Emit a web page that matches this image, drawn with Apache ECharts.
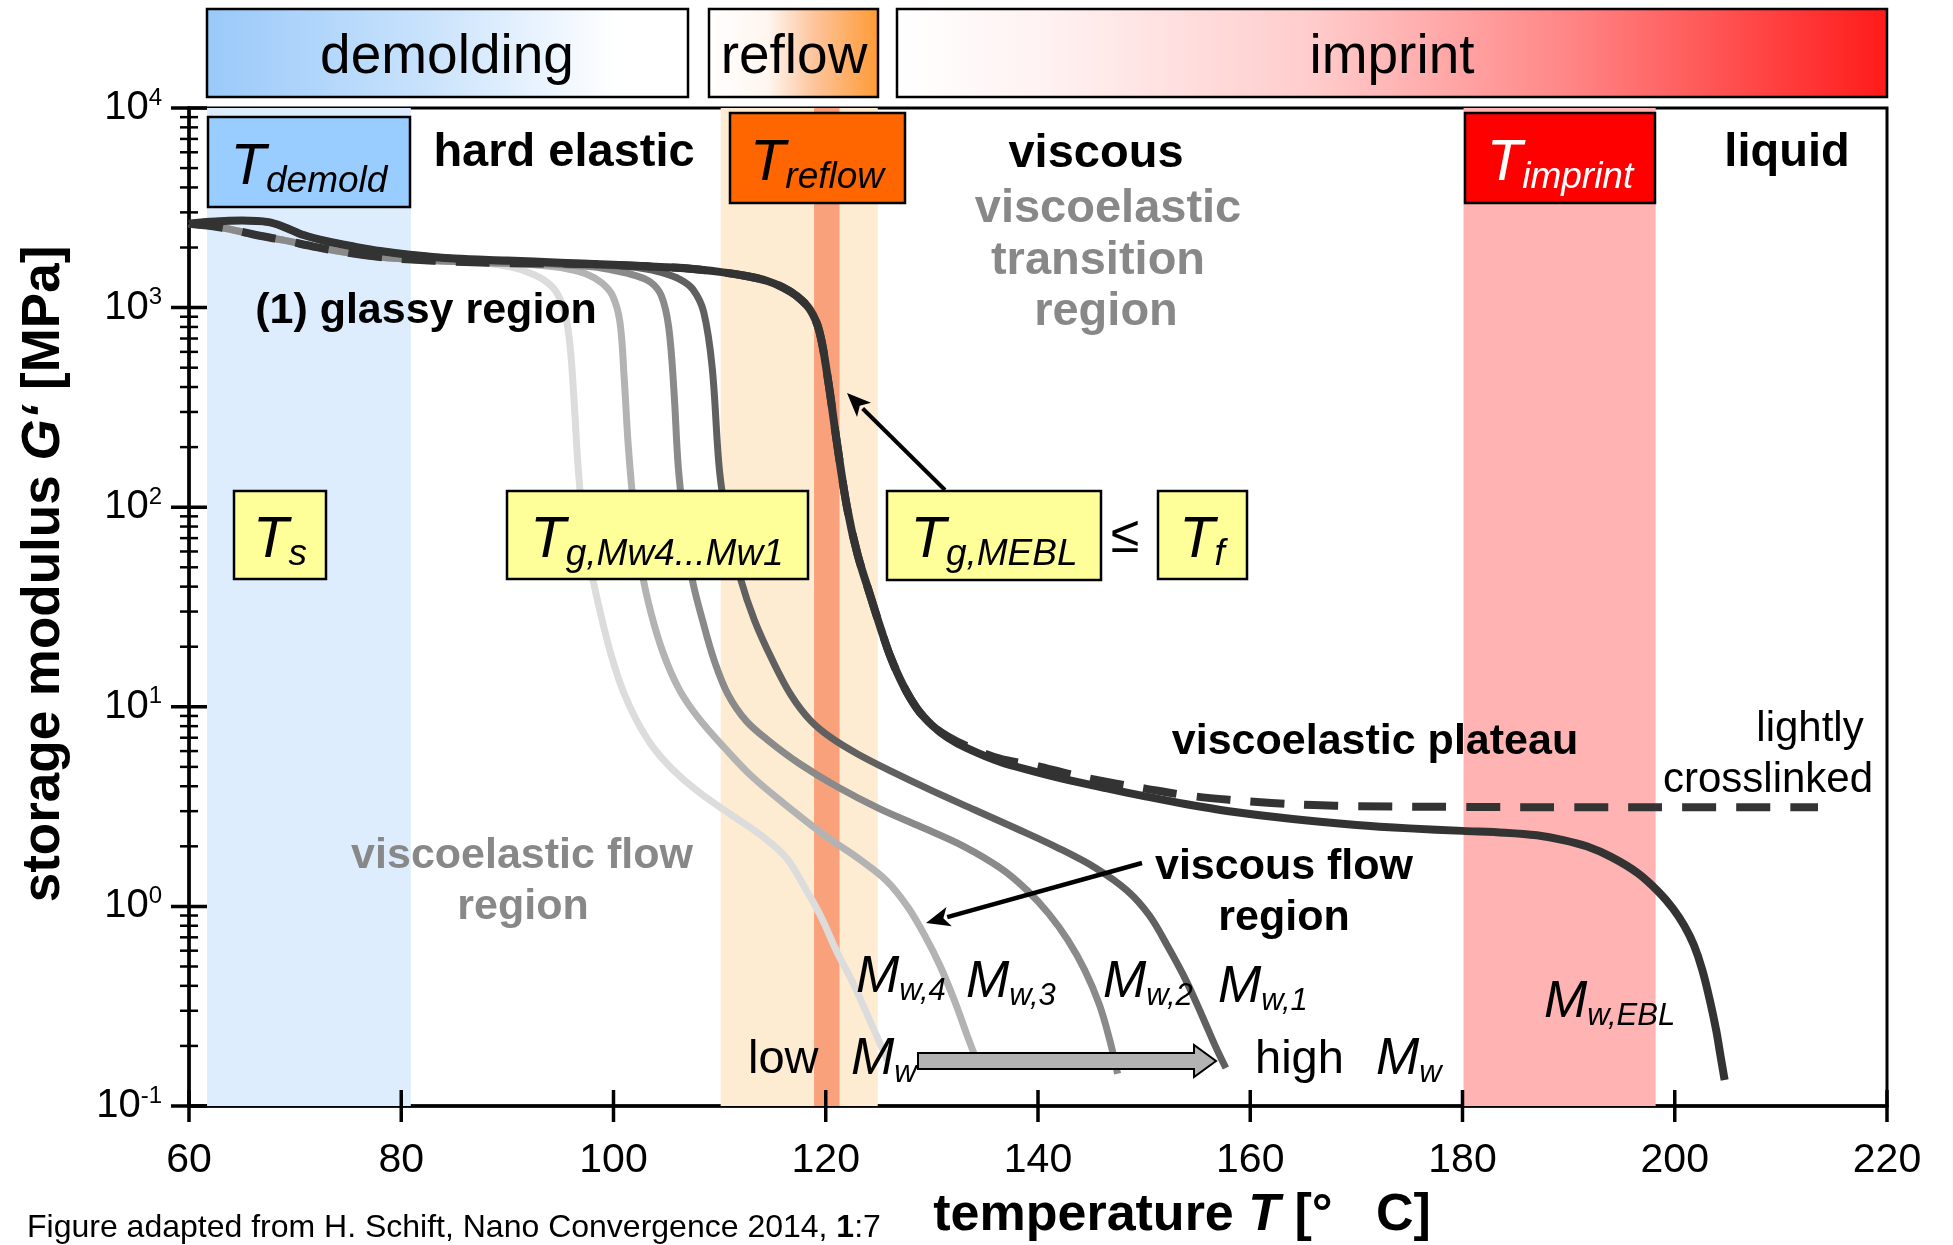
<!DOCTYPE html>
<html>
<head>
<meta charset="utf-8">
<script src="https://cdn.jsdelivr.net/npm/echarts@6/dist/echarts.min.js"></script>
<style>
  html, body { margin: 0; padding: 0; background: #ffffff; }
  #chart { width: 1953px; height: 1245px; }
</style>
</head>
<body>
<div id="chart"></div>
<script>
const FONT = '"Liberation Sans", Arial, Helvetica, sans-serif';

// ---- axes ----
const xTicks = [60, 80, 100, 120, 140, 160, 180, 200, 220];
const yDecades = [0.1, 1, 10, 100, 1000, 10000];
const yMinorSteps = [2, 3, 4, 5, 6, 7, 8, 9];

// ---- storage modulus G' [MPa] versus temperature [°C] ----
const mw4 = [[60,2630],[63,2520],[66,2330],[69,2170],[72,2010],[75,1880],[78,1790],[81,1740],[85,1700],[88,1670],[90.3,1600],[92,1500],[93.5,1370],[94.6,1200],[95.4,950],[95.9,650],[96.3,330],[96.7,150],[97.2,80],[97.9,48],[98.8,29],[99.8,18],[100.9,12],[102.2,8.5],[103.7,6.3],[105.5,4.9],[108,3.75],[111,2.9],[114,2.25],[116.3,1.75],[118,1.25],[119.5,0.9],[121,0.6],[122.5,0.42],[124,0.28],[125.8,0.17]];
const mw3 = [[60,2630],[63,2520],[66,2330],[69,2170],[72,2010],[75,1880],[78,1790],[81,1740],[85,1700],[90,1665],[93,1630],[95.5,1570],[97.5,1470],[98.9,1330],[99.9,1150],[100.6,850],[101,450],[101.4,200],[101.9,100],[102.6,50],[103.5,30],[104.7,18.5],[106.2,12.2],[108,8.8],[110.5,6.2],[113,4.5],[116,3.3],[120,2.25],[123,1.75],[125.7,1.35],[127.7,1.0],[129.3,0.72],[130.8,0.5],[132.2,0.33],[133.4,0.22],[134.5,0.155]];
const mw2 = [[60,2630],[63,2520],[66,2330],[69,2170],[72,2010],[75,1880],[78,1790],[81,1740],[85,1700],[90,1670],[95,1640],[98,1600],[100.2,1530],[102,1450],[103.5,1340],[104.5,1150],[105.2,800],[105.7,380],[106.1,160],[106.7,80],[107.4,44],[108.4,27],[109.5,17],[110.8,11.5],[112.5,8.5],[114.7,6.7],[117.5,5.2],[121,4.0],[125,3.1],[129,2.5],[133,2.0],[136.5,1.55],[139,1.2],[141,0.92],[142.8,0.68],[144.4,0.48],[145.8,0.32],[146.8,0.21],[147.5,0.145]];
const mw1 = [[60,2630],[62,2690],[65,2730],[67.5,2680],[69,2530],[70.8,2310],[73,2150],[75.6,2020],[78,1920],[80.8,1840],[85,1760],[90,1700],[95,1660],[100,1620],[102.5,1580],[104.5,1500],[106.3,1380],[107.5,1230],[108.5,950],[109.3,500],[110,150],[110.8,80],[111.9,45],[113.3,27],[115,17],[116.7,11.5],[118.5,8.6],[120.5,7.0],[123,5.8],[126,4.8],[130,3.8],[134,3.05],[138,2.45],[142,1.95],[145.5,1.55],[148.4,1.2],[150.5,0.9],[152.3,0.62],[154,0.42],[155.5,0.28],[156.7,0.2],[157.7,0.155]];
const mwEBL = [[60,2630],[62,2690],[65,2730],[67.5,2680],[69,2530],[70.8,2310],[73,2150],[75.6,2020],[78,1920],[80.8,1840],[85,1760],[90,1720],[95,1680],[100,1640],[104,1600],[107,1570],[110,1510],[112.5,1440],[114.5,1360],[116,1260],[117.2,1150],[118.5,980],[119.4,760],[120.2,440],[121,220],[122,100],[123,58],[124.2,36],[125.2,24.5],[126.1,17.8],[127.3,12.8],[128.6,9.8],[130,8.1],[131.5,7.0],[133.3,6.2],[136.4,5.3],[139.6,4.75],[143,4.28],[146.5,3.9],[150,3.57],[154,3.25],[158,3.0],[164,2.74],[170,2.56],[175,2.46],[180,2.39],[184,2.34],[187,2.27],[189.5,2.15],[191.7,2.0],[194,1.77],[196.5,1.47],[198.5,1.18],[199.8,0.98],[200.9,0.8],[201.8,0.64],[202.6,0.48],[203.3,0.34],[203.9,0.24],[204.3,0.18],[204.7,0.135]];
const crosslinked = [[60,2630],[63,2520],[66,2330],[69,2170],[72,2010],[75,1880],[78,1790],[81,1740],[85,1700],[90,1670],[96,1660],[100,1640],[104,1600],[107,1570],[110,1510],[112.5,1440],[114.5,1360],[116,1260],[117.2,1150],[118.5,980],[119.4,760],[120.2,440],[121,220],[122,100],[123,58],[124.2,36],[125.2,24.5],[126.1,17.8],[127.3,12.8],[128.6,9.8],[130,8.1],[131.5,7.1],[133.3,6.35],[136.4,5.5],[139.6,5.1],[143,4.6],[146.5,4.2],[150,3.9],[154,3.6],[158,3.42],[162,3.3],[166,3.22],[170,3.18],[180,3.15],[190,3.14],[200,3.14],[213.5,3.14]];

// ---- process windows along the temperature axis ----
const demoldBand = [61.7, 80.9];
const reflowBand = [110.1, 124.9];
const reflowCore = [118.9, 121.3];
const imprintBand = [180.1, 198.2];

// ---- tick marks (drawn through the axis scales) ----
const yTickData = [];
yDecades.forEach(d => {
  yTickData.push([60, d, 18]);
  if (d < 10000) yMinorSteps.forEach(m => yTickData.push([60, +(d * m).toPrecision(3), 9]));
});
const xTickData = xTicks.map(t => [t, 0.1, 16]);

function band(range, color, z) {
  return {
    type: 'line', data: [], z: z, silent: true,
    markArea: { silent: true, itemStyle: { color: color }, data: [[{ xAxis: range[0] }, { xAxis: range[1] }]] }
  };
}
function curve(name, data, color, width, dash, z) {
  return {
    name: name, type: 'line', data: data, z: z, smooth: 0.35, showSymbol: false, silent: true,
    lineStyle: { color: color, width: width, type: dash || 'solid', cap: 'butt', join: 'round' }
  };
}
function tickSeries(data, vertical) {
  return {
    type: 'custom', coordinateSystem: 'cartesian2d', silent: true, clip: false, z: 20,
    data: data, encode: { x: 0, y: 1 },
    renderItem: function (params, api) {
      const p = api.coord([api.value(0), api.value(1)]);
      const h = api.value(2);
      const lw = h > 12 ? 3.5 : 2.5;
      const shape = vertical
        ? { x1: p[0], y1: p[1] - h, x2: p[0], y2: p[1] + h }
        : { x1: p[0] - h, y1: p[1], x2: p[0] + h, y2: p[1] };
      return { type: 'line', shape: shape, style: { stroke: '#000', lineWidth: lw } };
    }
  };
}

// ---- annotation helpers ----
function txt(x, y, text, opt) {
  opt = opt || {};
  return {
    type: 'text', x: x, y: y, z: 100, rotation: opt.rotation || 0,
    style: {
      text: text, fill: opt.color || '#000',
      fontSize: opt.size || 47, fontWeight: opt.weight || 'normal', fontStyle: opt.style || 'normal',
      fontFamily: FONT,
      align: opt.align || 'center', verticalAlign: 'middle',
      textAlign: opt.align || 'center', textVerticalAlign: 'middle',
      rich: opt.rich
    }
  };
}
function subLabel(x, y, main, sub, opt) {
  opt = opt || {};
  const big = opt.big || 58, small = opt.small || 37, color = opt.color || '#000';
  const lh = big + 6;
  return txt(x, y, '{t|' + main + '}{s|' + sub + '}', {
    align: opt.align || 'center', color: color,
    rich: {
      t: { fontSize: big, fontStyle: 'italic', fontFamily: FONT, fill: color, color: color, lineHeight: lh },
      s: { fontSize: small, fontStyle: 'italic', fontFamily: FONT, fill: color, color: color, lineHeight: opt.subLh || 30, verticalAlign: 'bottom' }
    }
  });
}
function box(x, y, w, h, fill, lw) {
  return { type: 'rect', z: 99, shape: { x: x, y: y, width: w, height: h }, style: { fill: fill, stroke: '#000', lineWidth: lw || 2.5 } };
}
function grad(stops) {
  return { type: 'linear', x: 0, y: 0, x2: 1, y2: 0, colorStops: stops.map(s => ({ offset: s[0], color: s[1] })) };
}
function arrow(x1, y1, x2, y2, lw, head, hw) {
  const dx = x2 - x1, dy = y2 - y1, L = Math.hypot(dx, dy);
  const ux = dx / L, uy = dy / L;
  const bx = x2 - ux * head, by = y2 - uy * head;
  return {
    type: 'group', z: 100, children: [
      { type: 'line', z: 100, shape: { x1: x1, y1: y1, x2: bx + ux * 2, y2: by + uy * 2 }, style: { stroke: '#000', lineWidth: lw } },
      { type: 'polygon', z: 100, shape: { points: [[x2, y2], [bx - uy * hw, by + ux * hw], [bx + ux * head * 0.25, by + uy * head * 0.25], [bx + uy * hw, by - ux * hw]] }, style: { fill: '#000' } }
    ]
  };
}

const graphics = [
  // process stage header bars
  box(207, 9, 481, 88, grad([[0, '#99c9fa'], [0.45, '#c8e2fc'], [0.85, '#ffffff'], [1, '#ffffff']])),
  box(709, 9, 169, 88, grad([[0, '#ffffff'], [0.35, '#fff6ef'], [0.62, '#fdc49c'], [1, '#ff9a33']])),
  box(897, 9, 990, 88, grad([[0, '#ffffff'], [0.15, '#fff2f2'], [0.42, '#ffcccc'], [0.68, '#ff8585'], [1, '#ff1a1a']])),
  txt(447, 58, 'demolding', { size: 55 }),
  txt(794, 58, 'reflow', { size: 55 }),
  txt(1392, 58, 'imprint', { size: 55 }),

  // characteristic temperature boxes
  box(208, 117, 202, 90, '#99ccff'),
  subLabel(309, 168, 'T', 'demold', { subLh: 24 }),
  box(730, 113, 175, 90, '#ff6600'),
  subLabel(817, 164, 'T', 'reflow'),
  box(1465, 113, 190, 90, '#ff0000'),
  subLabel(1560, 164, 'T', 'imprint', { color: '#ffffff' }),
  box(234, 491, 92, 88, '#ffff99'),
  subLabel(280, 541, 'T', 's'),
  box(507, 491, 301, 88, '#ffff99'),
  subLabel(657, 541, 'T', 'g,Mw4...Mw1'),
  box(887, 491, 214, 89, '#ffff99'),
  subLabel(994, 541, 'T', 'g,MEBL'),
  txt(1125, 538, '≤', { size: 52 }),
  box(1158, 491, 89, 88, '#ffff99'),
  subLabel(1202, 541, 'T', 'f'),

  // regime names
  txt(564, 153, 'hard elastic', { weight: 'bold' }),
  txt(1096, 154, 'viscous', { weight: 'bold' }),
  txt(1108, 209, 'viscoelastic', { weight: 'bold', color: '#888888' }),
  txt(1098, 261, 'transition', { weight: 'bold', color: '#888888' }),
  txt(1106, 312, 'region', { weight: 'bold', color: '#888888' }),
  txt(1787, 153, 'liquid', { weight: 'bold' }),
  txt(426, 311, '(1) glassy region', { weight: 'bold', size: 43 }),
  txt(1375, 742, 'viscoelastic plateau', { weight: 'bold', size: 43 }),
  txt(1810, 729, 'lightly', { size: 42 }),
  txt(1768, 780, 'crosslinked', { size: 42 }),
  txt(522, 856, 'viscoelastic flow', { weight: 'bold', size: 43, color: '#888888' }),
  txt(523, 907, 'region', { weight: 'bold', size: 43, color: '#888888' }),
  txt(1284, 867, 'viscous flow', { weight: 'bold', size: 43 }),
  txt(1284, 918, 'region', { weight: 'bold', size: 43 }),

  // molecular weight labels
  subLabel(856, 978, 'M', 'w,4', { align: 'left', big: 52, small: 31, subLh: 24 }),
  subLabel(966, 983, 'M', 'w,3', { align: 'left', big: 52, small: 31, subLh: 24 }),
  subLabel(1103, 983, 'M', 'w,2', { align: 'left', big: 52, small: 31, subLh: 24 }),
  subLabel(1218, 988, 'M', 'w,1', { align: 'left', big: 52, small: 31, subLh: 24 }),
  subLabel(1544, 1003, 'M', 'w,EBL', { align: 'left', big: 52, small: 31, subLh: 24 }),
  txt(748, 1060, 'low', { align: 'left' }),
  subLabel(851, 1060, 'M', 'w', { align: 'left', big: 52, small: 31, subLh: 24 }),
  txt(1255, 1060, 'high', { align: 'left' }),
  subLabel(1376, 1060, 'M', 'w', { align: 'left', big: 52, small: 31, subLh: 24 }),

  // arrows
  arrow(945, 490, 847, 393, 4, 24, 10),
  arrow(1142, 863, 926, 923, 4.5, 24, 10),
  { type: 'polygon', z: 100, shape: { points: [[918, 1053], [1194, 1053], [1194, 1045], [1216, 1061], [1194, 1077], [1194, 1069], [918, 1069]] }, style: { fill: '#b3b3b3', stroke: '#000', lineWidth: 2 } },

  // axis titles and source note
  txt(1182, 1216, '{a|temperature }{i|T}{a| [°   C]}', {
    rich: {
      a: { fontSize: 52, fontWeight: 'bold', fontFamily: FONT, fill: '#000' },
      i: { fontSize: 52, fontWeight: 'bold', fontStyle: 'italic', fontFamily: FONT, fill: '#000' }
    }
  }),
  txt(44, 574, '{a|storage modulus }{i|G‘}{a| [MPa]}', {
    rotation: Math.PI / 2,
    rich: {
      a: { fontSize: 53, fontWeight: 'bold', fontFamily: FONT, fill: '#000' },
      i: { fontSize: 53, fontWeight: 'bold', fontStyle: 'italic', fontFamily: FONT, fill: '#000' }
    }
  }),
  txt(27, 1228, '{a|Figure adapted from H. Schift, Nano Convergence 2014, }{b|1}{a|:7}', {
    align: 'left',
    rich: {
      a: { fontSize: 32, fontFamily: FONT, fill: '#000' },
      b: { fontSize: 32, fontWeight: 'bold', fontFamily: FONT, fill: '#000' }
    }
  })
];

const chart = echarts.init(document.getElementById('chart'), null, { renderer: 'canvas' });
chart.setOption({
  animation: false,
  backgroundColor: '#ffffff',
  grid: { left: 189, top: 108, width: 1698, height: 998, show: true, borderColor: '#000', borderWidth: 3, backgroundColor: 'transparent' },
  xAxis: {
    type: 'value', min: 60, max: 220, interval: 20,
    axisLine: { show: true, lineStyle: { color: '#000', width: 3.5 } },
    axisTick: { show: false },
    splitLine: { show: false },
    axisLabel: { margin: 34, fontSize: 41, color: '#000', fontFamily: FONT }
  },
  yAxis: {
    type: 'log', logBase: 10, min: 0.1, max: 10000,
    axisLine: { show: true, lineStyle: { color: '#000', width: 3.5 } },
    axisTick: { show: false },
    splitLine: { show: false },
    minorTick: { show: false },
    axisLabel: {
      margin: 27, color: '#000',
      formatter: function (v) { return '{b|10}{s|' + Math.round(Math.log10(v)) + '}'; },
      rich: {
        b: { fontSize: 40, lineHeight: 44, fontFamily: FONT, color: '#000' },
        s: { fontSize: 24, lineHeight: 22, fontFamily: FONT, color: '#000', verticalAlign: 'top' }
      }
    }
  },
  series: [
    band(demoldBand, '#ddedfd', 1),
    band(reflowBand, '#fdecd2', 1),
    band(imprintBand, '#ffb3b3', 1),
    curve('Mw,4', mw4, '#dcdcdc', 7, null, 3),
    curve('Mw,3', mw3, '#b3b3b3', 7, null, 4),
    curve('Mw,2', mw2, '#8a8a8a', 7, null, 5),
    curve('Mw,1', mw1, '#606060', 7, null, 6),
    curve('Mw,EBL', mwEBL, '#333333', 8, null, 7),
    curve('lightly crosslinked', crosslinked, '#333333', 8, [34, 20], 8),
    band(reflowCore, 'rgba(245,85,35,0.5)', 9),
    tickSeries(yTickData, false),
    tickSeries(xTickData, true)
  ],
  graphic: graphics
});
</script>
</body>
</html>
